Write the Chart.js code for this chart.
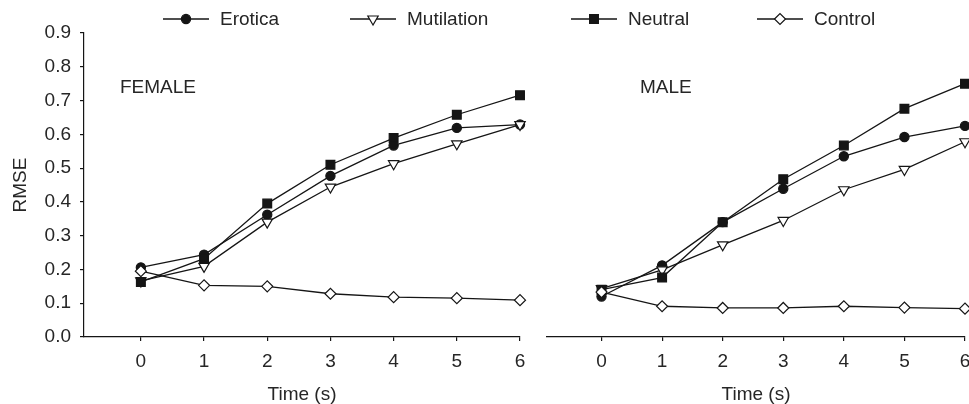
<!DOCTYPE html>
<html>
<head>
<meta charset="utf-8">
<script src="https://cdn.jsdelivr.net/npm/chart.js@4.4.1/dist/chart.umd.min.js"></script>
<style>
  html, body { margin: 0; padding: 0; background: #fff; }
  #wrap { position: relative; width: 969px; height: 404px; }
  #wrap canvas { position: absolute; left: 0; top: 0; }
</style>
</head>
<body>
<div id="wrap">
  <canvas id="cvs_female" width="969" height="404"></canvas>
  <canvas id="cvs_male" width="969" height="404"></canvas>
</div>
<script>
// dados
const tempos = [0, 1, 2, 3, 4, 5, 6];
const ticksX = [0, 1, 2, 3, 4, 5, 6];
const ticksY = [0, 0.1, 0.2, 0.3, 0.4, 0.5, 0.6, 0.7, 0.8, 0.9];
const categorias = ["Erotica", "Mutilation", "Neutral", "Control"];

const femErotica = [0.206, 0.244, 0.362, 0.477, 0.567, 0.619, 0.629];
const femMutilation = [0.166, 0.209, 0.340, 0.444, 0.513, 0.572, 0.629];
const femNeutral = [0.163, 0.232, 0.395, 0.510, 0.589, 0.658, 0.716];
const femControl = [0.195, 0.153, 0.150, 0.128, 0.118, 0.115, 0.109];

const masErotica = [0.120, 0.212, 0.340, 0.439, 0.535, 0.592, 0.625];
const masMutilation = [0.143, 0.199, 0.273, 0.345, 0.436, 0.496, 0.578];
const masNeutral = [0.140, 0.176, 0.340, 0.467, 0.567, 0.676, 0.750];
const masControl = [0.133, 0.091, 0.086, 0.086, 0.091, 0.087, 0.084];

const corLinha = "#151515";
const corTexto = "#262626";
const fonte = "'Liberation Sans', Arial, sans-serif";

Chart.defaults.font.family = fonte;
Chart.defaults.font.size = 19;
Chart.defaults.color = corTexto;

// estilo de cada série (marcador)
const estilos = [
  { pointStyle: "circle", radius: 4.6, rotation: 0, fundo: corLinha, order: 4 },
  { pointStyle: "triangle", radius: 6, rotation: 180, fundo: "#fff", order: 3 },
  { pointStyle: "rect", radius: 6.2, rotation: 0, fundo: corLinha, order: 2 },
  { pointStyle: "rectRot", radius: 5.5, rotation: 0, fundo: "#fff", order: 1 },
];

function montarDatasets(series) {
  return series.map(function (valores, i) {
    const e = estilos[i];
    return {
      label: categorias[i],
      data: tempos.map(function (t, k) { return { x: t, y: valores[k] }; }),
      borderColor: corLinha,
      borderWidth: 1.3,
      pointStyle: e.pointStyle,
      pointRadius: e.radius,
      pointRotation: e.rotation,
      pointBackgroundColor: e.fundo,
      pointBorderColor: corLinha,
      pointBorderWidth: 1.2,
      order: e.order,
      clip: false,
      tension: 0,
    };
  });
}

// legenda desenhada à mão (linha + marcador), em toda a largura
const legendaX = [163, 350, 571, 757];
const legendaPlugin = {
  id: "legenda",
  afterDraw(chart) {
    const ctx = chart.ctx;
    ctx.save();
    const y = 19;
    for (let i = 0; i < categorias.length; i++) {
      const x = legendaX[i];
      const e = estilos[i];
      ctx.strokeStyle = corLinha;
      ctx.lineWidth = 1.3;
      ctx.beginPath();
      ctx.moveTo(x, y);
      ctx.lineTo(x + 46, y);
      ctx.stroke();
      ctx.fillStyle = e.fundo;
      ctx.lineWidth = 1.2;
      Chart.helpers.drawPoint(ctx, { pointStyle: e.pointStyle, radius: e.radius, rotation: e.rotation, borderWidth: 1.2 }, x + 23, y);
      ctx.fillStyle = corTexto;
      ctx.font = "19px " + fonte;
      ctx.textBaseline = "middle";
      ctx.textAlign = "left";
      ctx.fillText(categorias[i], x + 57, y + 1);
    }
    ctx.restore();
  },
};

// rótulo do painel (FEMALE / MALE)
function rotuloPainel(texto, x) {
  return {
    id: "rotulo" + texto,
    afterDraw(chart) {
      const ctx = chart.ctx;
      ctx.save();
      ctx.fillStyle = corTexto;
      ctx.font = "19px " + fonte;
      ctx.textBaseline = "middle";
      ctx.textAlign = "left";
      ctx.fillText(texto, x, 88);
      ctx.restore();
    },
  };
}

function eixoX() {
  return {
    type: "linear",
    min: -0.9,
    max: 6,
    afterBuildTicks: function (scale) {
      scale.ticks = ticksX.map(function (v) { return { value: v }; });
    },
    afterFit: function (scale) {
      scale.height = 67;
      scale.paddingLeft = 0;
      scale.paddingRight = 0;
    },
    grid: { display: true, drawOnChartArea: false, drawTicks: true, tickLength: 4, color: corLinha, lineWidth: 1.2 },
    border: { display: true, color: corLinha, width: 1.2 },
    ticks: { padding: 9, color: corTexto, maxRotation: 0, autoSkip: false },
    title: { display: true, text: "Time (s)", color: corTexto, font: { size: 19, lineHeight: 1 }, padding: { top: 0, bottom: 0 } },
  };
}

function eixoY(mostrar) {
  return {
    type: "linear",
    display: mostrar,
    min: 0,
    max: 0.9,
    afterBuildTicks: function (scale) {
      scale.ticks = ticksY.map(function (v) { return { value: v }; });
    },
    afterFit: function (scale) {
      if (mostrar) scale.width = 84;
    },
    grid: { display: true, drawOnChartArea: false, drawTicks: true, tickLength: 4, color: corLinha, lineWidth: 1.2 },
    border: { display: true, color: corLinha, width: 1.2 },
    ticks: {
      padding: 9,
      color: corTexto,
      callback: function (v) { return Number(v).toFixed(1); },
    },
    title: { display: true, text: "RMSE", color: corTexto, font: { size: 19, lineHeight: 1.2 }, padding: { top: 9, bottom: 0 } },
  };
}

function opcoes(padding, mostrarY) {
  return {
    responsive: false,
    animation: false,
    devicePixelRatio: 1,
    layout: { padding: padding, autoPadding: false },
    plugins: { legend: { display: false }, tooltip: { enabled: false }, title: { display: false } },
    scales: { x: eixoX(), y: eixoY(mostrarY) },
  };
}

// Painel feminino (esquerda) + legenda
new Chart(document.getElementById("cvs_female"), {
  type: "line",
  data: { datasets: montarDatasets([femErotica, femMutilation, femNeutral, femControl]) },
  options: opcoes({ left: 0, top: 33, right: 449, bottom: 0 }, true),
  plugins: [legendaPlugin, rotuloPainel("FEMALE", 120)],
});

// Painel masculino (direita)
new Chart(document.getElementById("cvs_male"), {
  type: "line",
  data: { datasets: montarDatasets([masErotica, masMutilation, masNeutral, masControl]) },
  options: opcoes({ left: 547, top: 33, right: 4, bottom: 0 }, false),
  plugins: [rotuloPainel("MALE", 640)],
});
</script>
</body>
</html>
